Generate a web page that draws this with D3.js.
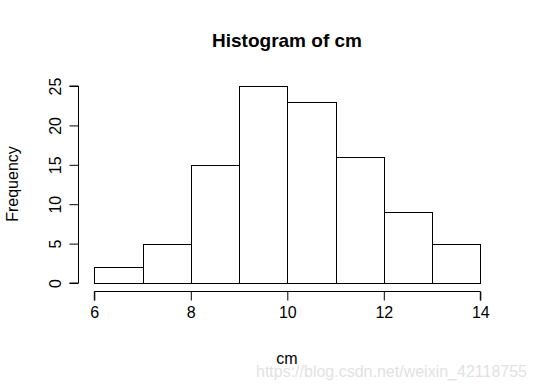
<!DOCTYPE html>
<html>
<head>
<meta charset="utf-8">
<script src="https://cdn.jsdelivr.net/npm/d3@7"></script>
<style>
  body { margin: 0; background: #fff; }
  text { font-family: "Liberation Sans", Arial, sans-serif; fill: #000; }
</style>
</head>
<body>
<div id="chart"></div>
<script>
// bins of cm and their counts
var binStarts = [6, 7, 8, 9, 10, 11, 12, 13];
var binWidth = 1;
var counts = [2, 5, 15, 25, 23, 16, 9, 5];
var xTicks = [6, 8, 10, 12, 14];
var yTicks = [0, 5, 10, 15, 20, 25];

var w = 536, h = 389;
var x0 = 94.3, x1 = 480.3, yBase = 283, yTop = 86;

var svg = d3.select("#chart").append("svg")
    .attr("width", w).attr("height", h);

var xScale = d3.scaleLinear().domain([6, 14]).range([x0, x1]);
var yScale = d3.scaleLinear().domain([0, 25]).range([yBase, yTop]);

svg.append("g").selectAll("rect")
    .data(counts)
    .enter().append("rect")
    .attr("x", function(d, i) { return Math.round(xScale(binStarts[i])) + 0.5; })
    .attr("y", function(d) { return Math.round(yScale(d)) + 0.5; })
    .attr("width", function(d, i) { return Math.round(xScale(binStarts[i] + binWidth)) - Math.round(xScale(binStarts[i])); })
    .attr("height", function(d) { return Math.round(yScale(0)) - Math.round(yScale(d)); })
    .attr("fill", "#fff")
    .attr("stroke", "#000")
    .attr("stroke-width", 1);

var xAxis = d3.axisBottom(xScale).tickValues(xTicks).tickSize(9).tickPadding(6).tickFormat(d3.format("d"));
var gx = svg.append("g")
    .attr("transform", "translate(0,291.5)")
    .call(xAxis);
gx.select(".domain").attr("d", "M" + xScale(6) + ",9V0H" + xScale(14) + "V9").attr("stroke", "#000");
gx.selectAll("text").style("font-size", "16px").attr("dy", "0.71em");

var yAxis = d3.axisLeft(yScale).tickValues(yTicks).tickSize(9).tickPadding(0);
var gy = svg.append("g")
    .attr("transform", "translate(78.5,0)")
    .call(yAxis);
gy.select(".domain").attr("d", "M-9," + yScale(0) + "H0V" + yScale(25) + "H-9").attr("stroke", "#000");
gy.selectAll(".tick text")
    .style("font-size", "16px")
    .attr("text-anchor", "middle")
    .attr("x", 0).attr("y", 0).attr("dy", "0.35em")
    .attr("transform", "translate(-23,0) rotate(-90)");

svg.append("text")
    .attr("x", 287).attr("y", 47)
    .attr("text-anchor", "middle")
    .style("font-size", "19px").style("font-weight", "bold")
    .text("Histogram of cm");

svg.append("text")
    .attr("x", 287).attr("y", 364)
    .attr("text-anchor", "middle")
    .style("font-size", "16px")
    .text("cm");

svg.append("text")
    .attr("transform", "translate(18,184) rotate(-90)")
    .attr("text-anchor", "middle")
    .style("font-size", "16px")
    .text("Frequency");

svg.append("text")
    .attr("x", 527).attr("y", 377)
    .attr("text-anchor", "end")
    .style("font-size", "16px")
    .style("fill", "#e2e2e2")
    .text("https://blog.csdn.net/weixin_42118755");
</script>
</body>
</html>
